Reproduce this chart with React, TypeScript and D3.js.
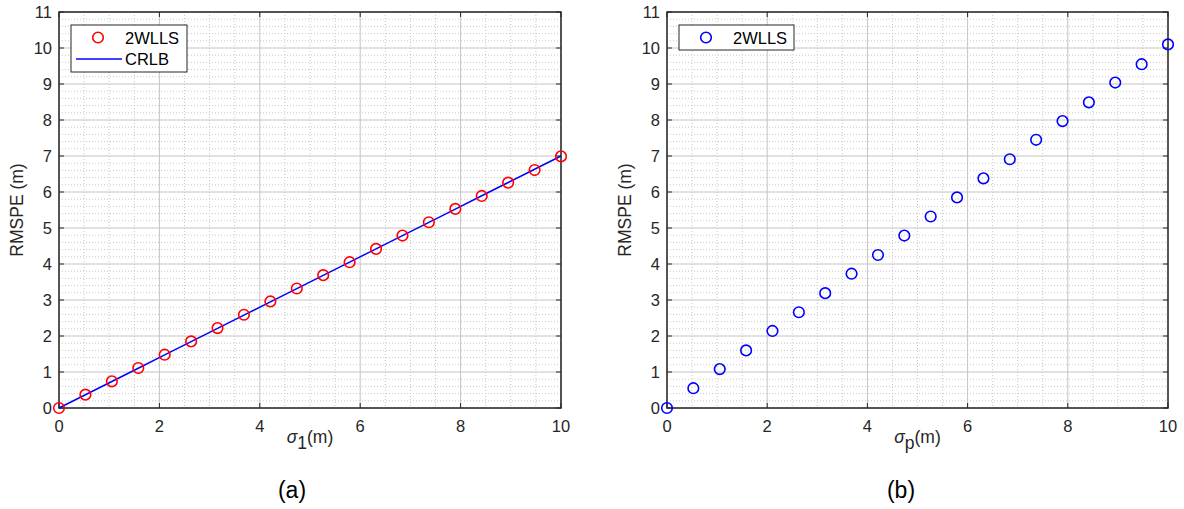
import React, { useEffect, useRef } from "react";
import * as d3 from "d3";

// sigma values (x) shared by both panels
const sigmaValues = [
  0, 0.526, 1.053, 1.579, 2.105, 2.632, 3.158, 3.684, 4.211, 4.737,
  5.263, 5.789, 6.316, 6.842, 7.368, 7.895, 8.421, 8.947, 9.474, 10,
];
// panel (a): 2WLLS RMSPE
const wllsA = [
  0, 0.37, 0.74, 1.11, 1.48, 1.85, 2.22, 2.59, 2.96, 3.32,
  3.69, 4.05, 4.42, 4.79, 5.16, 5.53, 5.89, 6.26, 6.61, 6.99,
];
// panel (a): CRLB
const crlbA = [
  0, 0.368, 0.737, 1.105, 1.474, 1.842, 2.211, 2.579, 2.947, 3.316,
  3.684, 4.053, 4.421, 4.789, 5.158, 5.526, 5.895, 6.263, 6.632, 7.0,
];
// panel (b): 2WLLS RMSPE
const wllsB = [
  0, 0.55, 1.08, 1.6, 2.14, 2.66, 3.19, 3.73, 4.25, 4.79,
  5.32, 5.85, 6.38, 6.91, 7.45, 7.97, 8.49, 9.04, 9.55, 10.1,
];
const xTicks = [0, 2, 4, 6, 8, 10];
const yTicks = [0, 1, 2, 3, 4, 5, 6, 7, 8, 9, 10, 11];

const FONT = "'Liberation Sans', Arial, sans-serif";

function drawPanel(
  svg: d3.Selection<SVGSVGElement, unknown, null, undefined>,
  opts: {
    left: number;
    right: number;
    top: number;
    bottom: number;
    ys: number[];
    color: string;
    line: number[] | null;
    sub: string;
    caption: string;
    captionX: number;
    legendW: number;
  }
) {
  const { left, right, top, bottom } = opts;
  const x = d3.scaleLinear().domain([0, 10]).range([left, right]);
  const y = d3.scaleLinear().domain([0, 11]).range([bottom, top]);
  const g = svg.append("g");

  g.append("rect")
    .attr("x", left)
    .attr("y", top)
    .attr("width", right - left)
    .attr("height", bottom - top)
    .attr("fill", "#fff");

  // minor grid
  const xMinor = d3.range(0, 10.001, 0.5).filter((v) => Math.abs(v % 2) > 1e-6);
  const yMinor = d3.range(0, 11.001, 0.2).filter((v) => Math.abs(v - Math.round(v)) > 1e-6);
  g.selectAll(".xm")
    .data(xMinor)
    .enter()
    .append("line")
    .attr("x1", (d) => x(d))
    .attr("x2", (d) => x(d))
    .attr("y1", top)
    .attr("y2", bottom)
    .attr("stroke", "#c8c8c8")
    .attr("stroke-width", 1)
    .attr("stroke-dasharray", "1,2");
  g.selectAll(".ym")
    .data(yMinor)
    .enter()
    .append("line")
    .attr("x1", left)
    .attr("x2", right)
    .attr("y1", (d) => y(d))
    .attr("y2", (d) => y(d))
    .attr("stroke", "#c8c8c8")
    .attr("stroke-width", 1)
    .attr("stroke-dasharray", "1,2");

  // major grid
  g.selectAll(".xg")
    .data(xTicks)
    .enter()
    .append("line")
    .attr("x1", (d) => x(d))
    .attr("x2", (d) => x(d))
    .attr("y1", top)
    .attr("y2", bottom)
    .attr("stroke", "#c4c4c4")
    .attr("stroke-width", 1);
  g.selectAll(".yg")
    .data(yTicks)
    .enter()
    .append("line")
    .attr("x1", left)
    .attr("x2", right)
    .attr("y1", (d) => y(d))
    .attr("y2", (d) => y(d))
    .attr("stroke", "#c4c4c4")
    .attr("stroke-width", 1);

  // box
  g.append("rect")
    .attr("x", left)
    .attr("y", top)
    .attr("width", right - left)
    .attr("height", bottom - top)
    .attr("fill", "none")
    .attr("stroke", "#262626")
    .attr("stroke-width", 1.5);

  // ticks inside on all four sides
  const tl = 5;
  xTicks.forEach((t) => {
    g.append("line").attr("x1", x(t)).attr("x2", x(t)).attr("y1", bottom).attr("y2", bottom - tl).attr("stroke", "#262626");
    g.append("line").attr("x1", x(t)).attr("x2", x(t)).attr("y1", top).attr("y2", top + tl).attr("stroke", "#262626");
  });
  yTicks.forEach((t) => {
    g.append("line").attr("x1", left).attr("x2", left + tl).attr("y1", y(t)).attr("y2", y(t)).attr("stroke", "#262626");
    g.append("line").attr("x1", right).attr("x2", right - tl).attr("y1", y(t)).attr("y2", y(t)).attr("stroke", "#262626");
  });

  // tick labels
  g.selectAll(".xl")
    .data(xTicks)
    .enter()
    .append("text")
    .attr("x", (d) => x(d))
    .attr("y", bottom + 24)
    .attr("text-anchor", "middle")
    .style("font-family", FONT)
    .style("font-size", "16.5px")
    .attr("fill", "#262626")
    .text((d) => d);
  g.selectAll(".yl")
    .data(yTicks)
    .enter()
    .append("text")
    .attr("x", left - 7)
    .attr("y", (d) => y(d) + 6)
    .attr("text-anchor", "end")
    .style("font-family", FONT)
    .style("font-size", "16.5px")
    .attr("fill", "#262626")
    .text((d) => d);

  // axis labels
  g.append("text")
    .attr("transform", `translate(${left - 36},${(top + bottom) / 2}) rotate(-90)`)
    .attr("text-anchor", "middle")
    .style("font-family", FONT)
    .style("font-size", "17.5px")
    .attr("fill", "#262626")
    .text("RMSPE (m)");

  const xl = g
    .append("text")
    .attr("x", (left + right) / 2)
    .attr("y", bottom + 35)
    .attr("text-anchor", "middle")
    .style("font-family", FONT)
    .style("font-size", "17.5px")
    .attr("fill", "#262626");
  xl.append("tspan").style("font-style", "italic").text("σ");
  xl.append("tspan").attr("dy", 6).text(opts.sub);
  xl.append("tspan").attr("dy", -6).text("(m)");

  g.append("text")
    .attr("x", opts.captionX)
    .attr("y", bottom + 90)
    .attr("text-anchor", "middle")
    .style("font-family", FONT)
    .style("font-size", "23px")
    .attr("fill", "#000")
    .text(opts.caption);

  // CRLB line
  if (opts.line) {
    const pts = sigmaValues.map((s, i) => [s, opts.line![i]] as [number, number]);
    g.append("path")
      .attr(
        "d",
        d3
          .line<[number, number]>()
          .x((d) => x(d[0]))
          .y((d) => y(d[1]))(pts)
      )
      .attr("fill", "none")
      .attr("stroke", "#0000ff")
      .attr("stroke-width", 1.5);
  }

  // markers
  g.selectAll(".pt")
    .data(opts.ys)
    .enter()
    .append("circle")
    .attr("cx", (d, i) => x(sigmaValues[i]))
    .attr("cy", (d) => y(d))
    .attr("r", 5.3)
    .attr("fill", "none")
    .attr("stroke", opts.color)
    .attr("stroke-width", 1.6);

  // legend
  const lx = left + 12;
  const ly = top + 13;
  const lh = opts.line ? 47 : 25;
  g.append("rect")
    .attr("x", lx)
    .attr("y", ly)
    .attr("width", opts.legendW)
    .attr("height", lh)
    .attr("fill", "#fff")
    .attr("stroke", "#262626")
    .attr("stroke-width", 1);
  g.append("circle")
    .attr("cx", lx + 27)
    .attr("cy", ly + 12.5)
    .attr("r", 5.3)
    .attr("fill", "none")
    .attr("stroke", opts.color)
    .attr("stroke-width", 1.6);
  g.append("text")
    .attr("x", lx + 54)
    .attr("y", ly + 18.5)
    .style("font-family", FONT)
    .style("font-size", "16.5px")
    .attr("fill", "#000")
    .text("2WLLS");
  if (opts.line) {
    g.append("line")
      .attr("x1", lx + 5)
      .attr("x2", lx + 51)
      .attr("y1", ly + 34)
      .attr("y2", ly + 34)
      .attr("stroke", "#0000ff")
      .attr("stroke-width", 1.5);
    g.append("text")
      .attr("x", lx + 54)
      .attr("y", ly + 40)
      .style("font-family", FONT)
      .style("font-size", "16.5px")
      .attr("fill", "#000")
      .text("CRLB");
  }
}

export default function App() {
  const ref = useRef<SVGSVGElement>(null);

  useEffect(() => {
    const svg = d3.select(ref.current!);
    svg.selectAll("*").remove();
    drawPanel(svg as any, {
      left: 59,
      right: 561,
      top: 12,
      bottom: 408,
      ys: wllsA,
      color: "#ff0000",
      line: crlbA,
      sub: "1",
      caption: "(a)",
      captionX: 292,
      legendW: 116,
    });
    drawPanel(svg as any, {
      left: 667,
      right: 1168,
      top: 12,
      bottom: 408,
      ys: wllsB,
      color: "#0000ff",
      line: null,
      sub: "p",
      caption: "(b)",
      captionX: 901,
      legendW: 115,
    });
  }, []);

  return (
    <svg
      ref={ref}
      width={1184}
      height={509}
      style={{ position: "absolute", left: 0, top: 0, background: "#fff" }}
    />
  );
}
